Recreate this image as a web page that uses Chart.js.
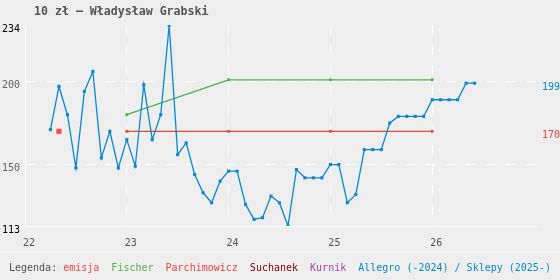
<!DOCTYPE html>
<html>
<head>
<meta charset="utf-8">
<script src="https://cdn.jsdelivr.net/npm/chart.js@4"></script>
<style>
  body { margin: 0; background: #eeeeee; }
  #wrap { position: relative; width: 560px; height: 280px; font-family: "DejaVu Sans Mono", monospace; }
  #box { position: absolute; left: 0; top: 0; width: 560px; height: 252px; }
  #title { position: absolute; left: 34px; top: 4px; font-size: 11.6px; font-weight: bold; color: #555; white-space: pre; }
  #legend { position: absolute; left: 0; top: 251px; width: 551px; height: 27px; padding-left: 9px;
            border-top: 2px solid #f6f6f6; font-size: 10px; line-height: 29px; color: #555; white-space: pre; }
</style>
</head>
<body>
<div id="wrap">
  <div id="box"><canvas id="chart"></canvas></div>
  <div id="title">10 zł – Władysław Grabski</div>
  <div id="legend">Legenda: <span style="color:#ff4444">emisja</span>  <span style="color:#55b055">Fischer</span>  <span style="color:#ee4444">Parchimowicz</span>  <span style="color:#880000">Suchanek</span>  <span style="color:#aa44aa">Kurnik</span>  <span style="color:#0a88d0">Allegro (-2024) / Sklepy (2025-)</span></div>
</div>
<script>
// miesiące notowań (RRRR-MM)
const months = [
  "2022-04", "2022-05", "2022-06", "2022-07", "2022-08", "2022-09", "2022-10", "2022-11", "2022-12",
  "2023-01", "2023-02", "2023-03", "2023-04", "2023-05", "2023-06", "2023-07", "2023-08", "2023-09",
  "2023-10", "2023-11", "2023-12", "2024-01", "2024-02", "2024-03", "2024-04", "2024-05", "2024-06",
  "2024-07", "2024-08", "2024-09", "2024-10", "2024-11", "2024-12", "2025-01", "2025-02", "2025-03",
  "2025-04", "2025-05", "2025-06", "2025-07", "2025-08", "2025-09", "2025-10", "2025-11", "2025-12",
  "2026-01", "2026-02", "2026-03", "2026-04", "2026-05", "2026-06",
];
const allegro = [
  171, 197, 180, 148, 194, 206, 154, 170, 148,
  165, 149, 198, 165, 180, 234, 156, 163, 144,
  133, 127, 140, 146, 146, 126, 117, 118, 131,
  127, 113, 147, 142, 142, 142, 150, 150, 127,
  132, 159, 159, 159, 175, 179, 179, 179, 179,
  189, 189, 189, 189, 199, 199,
];

const catalogMonths = ["2023-01", "2024-01", "2025-01", "2026-01"];
const fischer = [180, 201, 201, 201];
const parchimowicz = [170, 170, 170, 170];

const emisjaMonths = ["2022-05"];
const emisja = [170];

const xTicks = [22, 23, 24, 25, 26];
const yTicks = [113, 150, 200, 234];
const rightTicks = [170, 199];

function toX(s) {
  const [y, m] = s.split("-").map(Number);
  return y - 2000 + (m - 1) / 12;
}
function pts(dates, vals) {
  return dates.map((d, i) => ({ x: toX(d), y: vals[i] }));
}

const BLUE = "#0a88d0";
const RED = "#e84840";
const GREEN = "#4cb050";
const font = { family: "DejaVu Sans Mono", size: 10 };

new Chart(document.getElementById("chart"), {
  type: "line",
  data: {
    datasets: [
      {
        data: pts(months, allegro),
        borderColor: BLUE, borderWidth: 1.3,
        pointStyle: "rect", pointRadius: 2.2, pointBorderWidth: 0,
        pointBackgroundColor: BLUE, order: 0,
      },
      {
        data: pts(emisjaMonths, emisja),
        showLine: false,
        pointStyle: "rect", pointRadius: 3.6, pointBorderWidth: 0,
        pointBackgroundColor: "#ff4444", order: 1,
      },
      {
        data: pts(catalogMonths, parchimowicz),
        borderColor: RED, borderWidth: 1.3,
        pointStyle: "rect", pointRadius: 2, pointBorderWidth: 0,
        pointBackgroundColor: RED, order: 2,
      },
      {
        data: pts(catalogMonths, fischer),
        borderColor: GREEN, borderWidth: 1.3,
        pointStyle: "rect", pointRadius: 2, pointBorderWidth: 0,
        pointBackgroundColor: GREEN, order: 3,
      },
    ],
  },
  options: {
    animation: false,
    responsive: true,
    maintainAspectRatio: false,
    layout: { padding: { top: 25, left: 0, right: 0, bottom: 0 } },
    elements: { line: { tension: 0 } },
    plugins: { legend: { display: false }, tooltip: { enabled: false } },
    scales: {
      x: {
        type: "linear", min: 22, max: 27.02,
        afterBuildTicks: (s) => { s.ticks = xTicks.map((v) => ({ value: v })); },
        afterFit: (s) => { s.height = 26; },
        grid: {
          color: (c) => (c.tick && c.tick.value === 22 ? "rgba(0,0,0,0)" : "#ffffff"),
          drawTicks: false,
        },
        border: { color: "#ffffff", width: 1, dash: [10, 10] },
        ticks: { font, color: "#555", padding: 11, labelOffset: 4, maxRotation: 0, callback: (v) => v },
      },
      y: {
        min: 113, max: 234,
        afterBuildTicks: (s) => { s.ticks = yTicks.map((v) => ({ value: v })); },
        afterFit: (s) => { s.width = 25; },
        grid: {
          color: (c) => (c.tick && (c.tick.value === 150 || c.tick.value === 200) ? "#ffffff" : "rgba(0,0,0,0)"),
          drawTicks: false,
        },
        border: { color: "#ffffff", width: 1, dash: [10, 10] },
        ticks: {
          font, padding: 5, labelOffset: 4,
          color: (c) => (c.tick && (c.tick.value === 113 || c.tick.value === 234) ? "#000" : "#666"),
        },
      },
      y2: {
        position: "right", min: 113, max: 234,
        afterBuildTicks: (s) => { s.ticks = rightTicks.map((v) => ({ value: v })); },
        afterFit: (s) => { s.width = 24; },
        grid: { display: false, drawTicks: false },
        border: { display: false },
        ticks: {
          font, padding: 6, labelOffset: 4,
          color: (c) => (c.tick && c.tick.value === 199 ? BLUE : "#ee4444"),
        },
      },
    },
  },
});
</script>
</body>
</html>
